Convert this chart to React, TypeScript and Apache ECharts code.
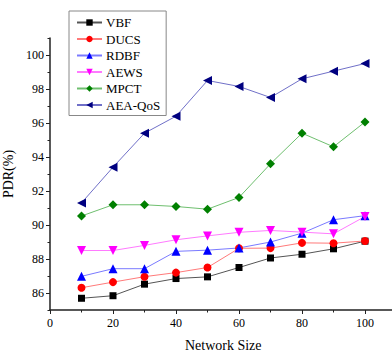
import React, { useEffect, useRef } from "react";
import * as echarts from "echarts";

const networkSizes = [10, 20, 30, 40, 50, 60, 70, 80, 90, 100];
const vbf = [85.69, 85.84, 86.52, 86.85, 86.95, 87.5, 88.06, 88.28, 88.6, 89.05];
const ducs = [86.31, 86.64, 86.96, 87.2, 87.5, 88.63, 88.64, 88.95, 88.93, 89.06];
const rdbf = [86.98, 87.43, 87.43, 88.45, 88.52, 88.65, 89.0, 89.52, 90.31, 90.55];
const aews = [88.5, 88.5, 88.8, 89.13, 89.36, 89.57, 89.68, 89.58, 89.48, 90.5];
const mpct = [90.53, 91.19, 91.19, 91.09, 90.93, 91.62, 93.6, 95.4, 94.6, 96.06];
const aeaQos = [91.3, 93.4, 95.4, 96.4, 98.5, 98.15, 97.5, 98.6, 99.05, 99.5];

const xMajorTicks = [0, 20, 40, 60, 80, 100];
const xMinorTicks = [10, 30, 50, 70, 90];
const yMajorTicks = [86, 88, 90, 92, 94, 96, 98, 100];
const yMinorTicks = [85, 87, 89, 91, 93, 95, 97, 99, 101];

const seriesDefs = [
  { name: "VBF", data: vbf, line: "#555555", marker: "#000000", symbol: "rect", size: 7, rotate: 0 },
  { name: "DUCS", data: ducs, line: "#ff7a7a", marker: "#ff0000", symbol: "circle", size: 8, rotate: 0 },
  { name: "RDBF", data: rdbf, line: "#7a7aff", marker: "#0000ff", symbol: "triangle", size: 9, rotate: 0 },
  { name: "AEWS", data: aews, line: "#ff7aff", marker: "#ff00ff", symbol: "triangle", size: 9, rotate: 180 },
  { name: "MPCT", data: mpct, line: "#6fbf6f", marker: "#008000", symbol: "diamond", size: 9, rotate: 0 },
  { name: "AEA-QoS", data: aeaQos, line: "#7070c8", marker: "#000080", symbol: "triangle", size: 9, rotate: 90 },
];

const FONT = "'Liberation Serif', 'Times New Roman', serif";

export default function App() {
  const ref = useRef<HTMLDivElement>(null);
  useEffect(() => {
    if (!ref.current) return;
    const chart = echarts.init(ref.current, null, { renderer: "svg" });
    const axisLine = { show: true, lineStyle: { color: "#222", width: 1.5 } };
    chart.setOption({
      animation: false,
      backgroundColor: "#ffffff",
      textStyle: { fontFamily: FONT },
      grid: { left: 50, top: 38, width: 346.5, height: 272, containLabel: false, outerBoundsMode: "none" },
      legend: {
        orient: "vertical",
        left: 69,
        top: 11,
        itemWidth: 25,
        itemHeight: 8,
        itemGap: 3.5,
        padding: [5, 6, 4, 7],
        borderColor: "#888",
        borderWidth: 1,
        textStyle: { fontFamily: FONT, fontSize: 13, lineHeight: 13, color: "#000", padding: [0, 0, 0, -1] },
        data: seriesDefs.map((s) => s.name),
      },
      xAxis: [
        {
          type: "value",
          min: 0,
          max: 110,
          interval: 10,
          name: "Network Size",
          nameLocation: "middle",
          nameGap: 28,
          nameTextStyle: { fontFamily: FONT, fontSize: 14, fontWeight: "normal", color: "#000" },
          axisLine,
          splitLine: { show: false },
          axisTick: { show: true, length: 4, lineStyle: { color: "#222" }, customValues: xMajorTicks },
          axisLabel: { fontFamily: FONT, fontSize: 12, color: "#000", margin: 7, customValues: xMajorTicks },
        },
        {
          type: "value",
          min: 0,
          max: 110,
          interval: 10,
          position: "bottom",
          axisLine: { show: false },
          splitLine: { show: false },
          axisTick: { show: true, length: 2.5, lineStyle: { color: "#222" }, customValues: xMinorTicks },
          axisLabel: { show: false },
        },
      ],
      yAxis: [
        {
          type: "value",
          min: 85,
          max: 101,
          interval: 1,
          name: "PDR(%)",
          nameLocation: "middle",
          nameGap: 30,
          nameRotate: 90,
          nameTextStyle: { fontFamily: FONT, fontSize: 14, fontWeight: "normal", color: "#000" },
          axisLine,
          splitLine: { show: false },
          axisTick: { show: true, length: 4, lineStyle: { color: "#222" }, customValues: yMajorTicks },
          axisLabel: { fontFamily: FONT, fontSize: 12, color: "#000", margin: 6, customValues: yMajorTicks },
        },
        {
          type: "value",
          min: 85,
          max: 101,
          interval: 1,
          position: "left",
          axisLine: { show: false },
          splitLine: { show: false },
          axisTick: { show: true, length: 2.5, lineStyle: { color: "#222" }, customValues: yMinorTicks },
          axisLabel: { show: false },
        },
      ],
      series: seriesDefs.map((s) => ({
        name: s.name,
        type: "line",
        xAxisIndex: 0,
        yAxisIndex: 0,
        data: networkSizes.map((x, i) => [x, s.data[i]]),
        symbol: s.symbol,
        symbolSize: s.size,
        symbolRotate: s.rotate,
        showAllSymbol: true,
        lineStyle: { color: s.line, width: 1 },
        itemStyle: { color: s.marker },
        emphasis: { disabled: true },
      })),
    });
    return () => chart.dispose();
  }, []);
  return (
    <div
      ref={ref}
      style={{ position: "fixed", left: 0, top: 0, width: 392, height: 351, background: "#fff" }}
    />
  );
}
